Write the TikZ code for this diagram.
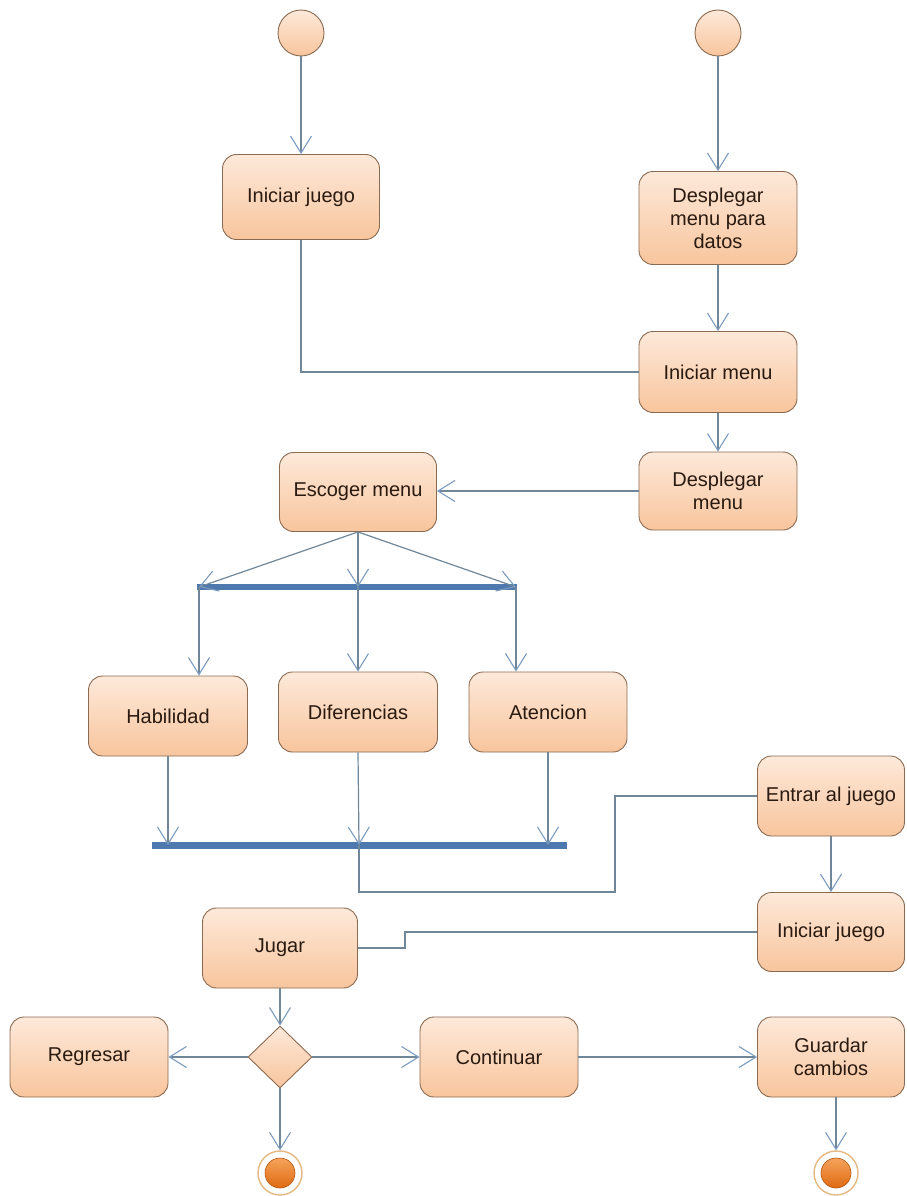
\documentclass[tikz,border=0pt]{standalone}
\usepackage{fontspec}
\setmainfont{Liberation Sans}
\usetikzlibrary{arrows.meta,shapes.geometric}
\definecolor{boxtop}{HTML}{FDE9DA}
\definecolor{boxbot}{HTML}{F8C59D}
\definecolor{boxline}{HTML}{8A6A50}
\definecolor{flowc}{HTML}{6F8799}
\definecolor{tipc}{HTML}{7B9BBF}
\definecolor{barc}{HTML}{4D79AE}
\definecolor{ink}{HTML}{2A1A10}
\definecolor{endring}{HTML}{E5B880}
\definecolor{endtop}{HTML}{F5A35C}
\definecolor{endbot}{HTML}{DF6A12}
\begin{document}
\begin{tikzpicture}[x=1pt,y=-1pt,
  act/.style={draw=boxline, line width=0.9pt, rounded corners=14pt,
    top color=boxtop, bottom color=boxbot, minimum width=157pt,
    minimum height=80pt, align=center, text=ink, inner sep=2pt,
    font=\fontsize{20}{23}\selectfont},
  startnode/.style={circle, draw=boxline, line width=0.9pt,
    top color=boxtop, bottom color=boxbot, minimum size=46pt, inner sep=0pt},
  endouter/.style={circle, draw=endring, line width=1.4pt, fill=white,
    minimum size=44pt, inner sep=0pt},
  endinner/.style={circle, draw=endbot!80!black, line width=0.6pt,
    top color=endtop, bottom color=endbot, minimum size=30pt, inner sep=0pt},
  decision/.style={diamond, draw=boxline, line width=0.9pt,
    top color=boxtop, bottom color=boxbot, minimum width=64pt,
    minimum height=62pt, inner sep=0pt},
  syncbar/.style={fill=barc, inner sep=0pt, minimum height=6pt},
  flow/.style={draw=flowc, line width=1.2pt},
  arr/.style={flow, -{Straight Barb[length=17pt,width=21pt,line width=1.1pt,color=tipc]}}
]
\useasboundingbox (0,0) rectangle (906,1196);

% start nodes
\node[startnode] (s1) at (301,33) {};
\node[startnode] (s2) at (718,33) {};

% activities
\node[act] (ij1) at (301,197) [minimum height=85pt] {Iniciar juego};
\node[act] (dmd) at (718,218) [minimum width=158pt, minimum height=93pt] {Desplegar\\menu para\\datos};
\node[act] (im)  at (718,372) [minimum width=158pt, minimum height=81pt] {Iniciar menu};
\node[act] (dm)  at (718,491) [minimum width=158pt, minimum height=78pt] {Desplegar\\menu};
\node[act] (esc) at (358,492) [minimum height=79pt] {Escoger menu};
\node[act] (hab) at (168,716) [minimum width=159pt] {Habilidad};
\node[act] (dif) at (358,712) [minimum width=159pt] {Diferencias};
\node[act] (ate) at (548,712) [minimum width=158pt] {Atencion};
\node[act] (ent) at (831,796) [minimum width=147pt] {Entrar al juego};
\node[act] (ij2) at (831,932) [minimum width=147pt, minimum height=79pt] {Iniciar juego};
\node[act] (jug) at (280,948) [minimum width=155pt] {Jugar};
\node[decision] (dec) at (280,1057) {};
\node[act] (reg) at (89,1057) [minimum width=158pt] {Regresar};
\node[act] (con) at (499,1057) [minimum width=158pt] {Continuar};
\node[act] (gua) at (831,1057) [minimum width=147pt] {Guardar\\cambios};

% end nodes
\node[endouter] (e1) at (280,1173) {};
\node[endinner] (e1c) at (e1) {};
\node[endouter] (e2) at (836,1173) {};
\node[endinner] (e2c) at (e2) {};

% fork and join bars
\node[syncbar, minimum width=320pt] (fork) at (357,587) {};
\node[syncbar, minimum width=415pt, minimum height=7pt] (join) at (359.5,845) {};
\coordinate (fa) at (199,587);
\coordinate (fb) at (358,587);
\coordinate (fc) at (516,587);
\coordinate (ja) at (168,845);
\coordinate (jb) at (359,845);
\coordinate (jc) at (548,845);

% start flows
\draw[arr] (s1) -- (ij1);
\draw[arr] (s2) -- (dmd);
\draw[arr] (dmd) -- (im);
\draw[flow] (ij1.south) |- (im.west);
\draw[arr] (im) -- (dm);
\draw[arr] (dm.west) -- (dm.west -| esc.east);

% fork
\draw[arr] (esc.south) -- (fa);
\draw[arr] (esc.south) -- (fb);
\draw[arr] (esc.south) -- (fc);
\draw[arr] (fa) -- (fa |- hab.north);
\draw[arr] (fb) -- (fb |- dif.north);
\draw[arr] (fc) -- (fc |- ate.north);

% join
\draw[arr] (hab.south) -- (ja);
\draw[arr] (dif.south) -- (jb);
\draw[arr] (ate.south) -- (jc);

% join to the game entry
\coordinate (jdown) at (359,892);
\coordinate (jright) at (615,892);
\draw[flow] (jb) -- (jdown) -- (jright) |- (ent.west);
\draw[arr] (ent) -- (ij2);
\coordinate (kink) at (405,932);
\draw[flow] (ij2.west) -- (kink) |- (jug.east);

% decision
\draw[arr] (jug) -- (dec);
\draw[arr] (dec.west) -- (reg.east);
\draw[arr] (dec.east) -- (con.west);
\draw[arr] (dec.south) -- (e1);
\draw[arr] (con.east) -- (gua.west);
\draw[arr] (gua.south -| e2) -- (e2);
\end{tikzpicture}
\end{document}
